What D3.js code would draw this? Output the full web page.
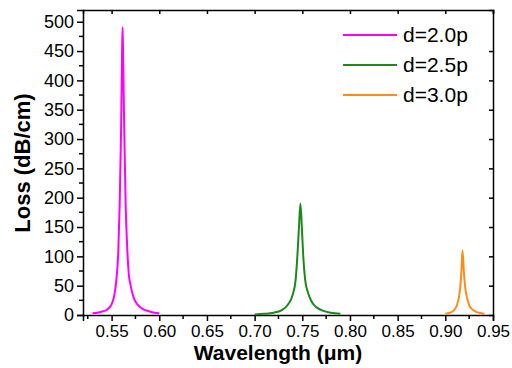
<!DOCTYPE html>
<html>
<head>
<meta charset="utf-8">
<script src="https://cdn.jsdelivr.net/npm/d3@7"></script>
<style>
  body { margin: 0; background: #fff; }
  svg { display: block; font-family: "Liberation Sans", Arial, sans-serif; }
</style>
</head>
<body>
<div id="chart"></div>
<script>
// values: [wavelength (um), loss (dB/cm)]
const d20 = [
  [0.530, 3], [0.535, 4], [0.540, 6], [0.545, 9], [0.550, 18], [0.553, 35],
  [0.555, 60], [0.557, 108], [0.5585, 190], [0.5600, 320], [0.5610, 450],
  [0.5615, 490], [0.5620, 450], [0.5632, 320], [0.5647, 190], [0.5665, 110],
  [0.568, 70], [0.570, 50], [0.573, 30], [0.577, 18], [0.583, 10],
  [0.590, 6], [0.595, 4], [0.600, 3]
];
const d25 = [
  [0.700, 1], [0.710, 2], [0.720, 4], [0.728, 8], [0.735, 18], [0.740, 35],
  [0.743, 60], [0.745, 105], [0.7465, 150], [0.748, 190], [0.7495, 150],
  [0.751, 100], [0.753, 60], [0.756, 38], [0.760, 22], [0.765, 13],
  [0.772, 7], [0.780, 4], [0.790, 2]
];
const d30 = [
  [0.900, 2], [0.905, 4], [0.909, 8], [0.912, 16], [0.914, 28], [0.9155, 45],
  [0.9168, 72], [0.918, 110], [0.9195, 72], [0.921, 45], [0.923, 28],
  [0.925, 17], [0.928, 10], [0.933, 5], [0.938, 3], [0.941, 2]
];
const seriesNames = ["d=2.0p", "d=2.5p", "d=3.0p"];
const seriesColors = ["#ff00ff", "#1a8a1a", "#ff8c1a"];
const xTicks = [0.55, 0.60, 0.65, 0.70, 0.75, 0.80, 0.85, 0.90, 0.95];
const yTicks = [0, 50, 100, 150, 200, 250, 300, 350, 400, 450, 500];

const width = 512, height = 368;
const margin = {top: 10, right: 19, bottom: 53, left: 83};

const svg = d3.select("#chart").append("svg")
  .attr("width", width).attr("height", height);

const x = d3.scaleLinear().domain([0.52, 0.95])
  .range([margin.left, width - margin.right]);
const y = d3.scaleLinear().domain([0, 520])
  .range([height - margin.bottom, margin.top]);

const xMinor = d3.range(0.525, 0.951, 0.05);
const yMinor = d3.range(25, 520, 50);

// bottom axis (outward ticks)
const gx = svg.append("g")
  .attr("transform", `translate(0,${height - margin.bottom})`)
  .call(d3.axisBottom(x).tickValues(xTicks).tickFormat(d3.format(".2f")).tickSize(6).tickPadding(4));
gx.append("g").selectAll("line").data(xMinor).join("line")
  .attr("x1", d => x(d)).attr("x2", d => x(d)).attr("y1", 0).attr("y2", 4)
  .attr("stroke", "#000").attr("stroke-width", 1.5);

// left axis
const gy = svg.append("g")
  .attr("transform", `translate(${margin.left},0)`)
  .call(d3.axisLeft(y).tickValues(yTicks).tickSize(6).tickPadding(3));
gy.append("g").selectAll("line").data(yMinor).join("line")
  .attr("y1", d => y(d)).attr("y2", d => y(d)).attr("x1", 0).attr("x2", -4)
  .attr("stroke", "#000").attr("stroke-width", 1.5);

// top and right axes, inward ticks, no labels
svg.append("g")
  .attr("transform", `translate(0,${margin.top})`)
  .call(d3.axisTop(x).tickValues(xTicks).tickSize(-4).tickFormat(""));
svg.append("g")
  .attr("transform", `translate(${width - margin.right},0)`)
  .call(d3.axisRight(y).tickValues(yTicks.slice(1, -1)).tickSize(-4).tickFormat(""));

svg.selectAll(".domain").attr("stroke", "#000").attr("stroke-width", 1.5);
svg.selectAll(".tick line").attr("stroke", "#000").attr("stroke-width", 1.5);
svg.selectAll(".tick text").attr("font-family", "Liberation Sans, Arial, sans-serif").attr("fill", "#000");
gx.selectAll(".tick text").attr("font-size", 17);
gy.selectAll(".tick text").attr("font-size", 18);

// curves
const line = d3.line().x(d => x(d[0])).y(d => y(d[1])).curve(d3.curveMonotoneX);
[d20, d25, d30].forEach((data, i) => {
  svg.append("path").datum(data)
    .attr("fill", "none")
    .attr("stroke", seriesColors[i])
    .attr("stroke-width", 2)
    .attr("d", line);
});

// legend
const legend = svg.append("g").attr("transform", "translate(343,35)");
seriesNames.forEach((name, i) => {
  const g = legend.append("g").attr("transform", `translate(0,${i * 30})`);
  g.append("line").attr("x1", 0).attr("x2", 54).attr("y1", 0).attr("y2", 0)
    .attr("stroke", seriesColors[i]).attr("stroke-width", 2);
  g.append("text").attr("x", 60).attr("y", 7).attr("font-size", 21).text(name);
});

// axis titles
svg.append("text")
  .attr("x", 278).attr("y", 360)
  .attr("text-anchor", "middle").attr("font-weight", "bold").attr("font-size", 21)
  .text("Wavelength (\u03bcm)");
svg.append("text")
  .attr("transform", "translate(30,163) rotate(-90)")
  .attr("text-anchor", "middle").attr("font-weight", "bold").attr("font-size", 22)
  .text("Loss (dB/cm)");
</script>
</body>
</html>
